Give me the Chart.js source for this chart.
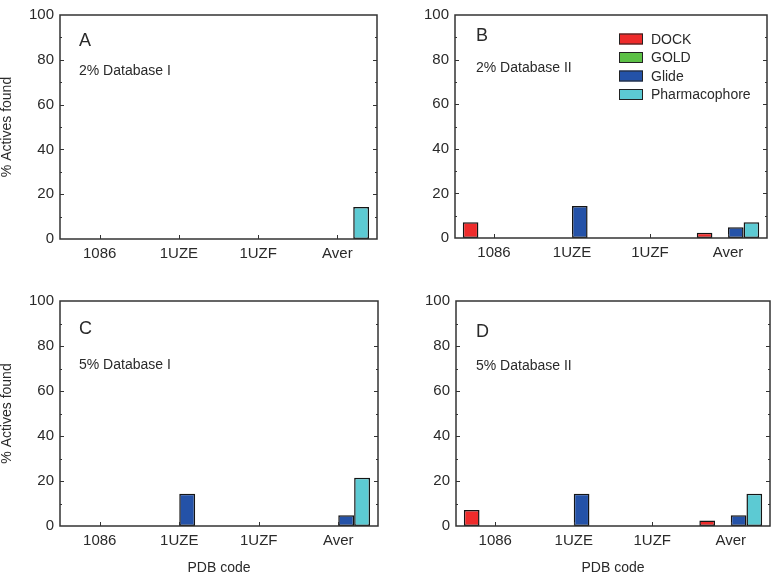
<!DOCTYPE html>
<html>
<head>
<meta charset="utf-8">
<script src="https://cdn.jsdelivr.net/npm/chart.js@4/dist/chart.umd.min.js"></script>
<style>
  body { margin: 0; background: #fff; }
  #wrap { position: relative; width: 777px; height: 572px; overflow: hidden; }
  canvas { position: absolute; }
</style>
</head>
<body>
<div id="wrap">
  <canvas id="panelA" width="390" height="286" style="left:0px;top:0px;width:390px;height:286px"></canvas>
  <canvas id="panelB" width="387" height="286" style="left:390px;top:0px;width:387px;height:286px"></canvas>
  <canvas id="panelC" width="390" height="286" style="left:0px;top:286px;width:390px;height:286px"></canvas>
  <canvas id="panelD" width="387" height="286" style="left:390px;top:286px;width:387px;height:286px"></canvas>
</div>
<script>
// categories and series
var pdbCodes = ["1086", "1UZE", "1UZF", "Aver"];
var methods = ["DOCK", "GOLD", "Glide", "Pharmacophore"];
var yTicks = [0, 20, 40, 60, 80, 100];

// % actives found, one array per method and panel
var dockA = [0, 0, 0, 0];
var goldA = [0, 0, 0, 0];
var glideA = [0, 0, 0, 0];
var pharmA = [0, 0, 0, 14.3];

var dockB = [7.1, 0, 0, 2.4];
var goldB = [0, 0, 0, 0];
var glideB = [0, 14.3, 0, 4.8];
var pharmB = [0, 0, 0, 7.1];

var dockC = [0, 0, 0, 0];
var goldC = [0, 0, 0, 0];
var glideC = [0, 14.3, 0, 4.8];
var pharmC = [0, 0, 0, 21.4];

var dockD = [7.1, 0, 0, 2.4];
var goldD = [0, 0, 0, 0];
var glideD = [0, 14.3, 0, 4.8];
var pharmD = [0, 0, 0, 14.3];

var colores = ["#ee2b2b", "#5cc046", "#2452a8", "#5ccad3"];
var fonte = "'Liberation Sans', Arial, sans-serif";
var corTexto = "#2a2a2a";

// frame, inward ticks, panel texts and the legend
var decoPlugin = {
	id: "decoPainel",
	afterDraw: function (chart, args, opts) {
		var ctx = chart.ctx;
		var a = chart.chartArea;
		var y = chart.scales.y;
		var x = chart.scales.x;
		ctx.save();
		ctx.strokeStyle = "#333";
		ctx.lineWidth = 1.5;
		ctx.strokeRect(a.left, a.top, a.right - a.left, a.bottom - a.top);

		ctx.lineWidth = 1;
		for (var v = 10; v < 100; v += 10) {
			var py = Math.round(y.getPixelForValue(v)) + 0.5;
			var len = (v % 20 == 0) ? 4 : 2;
			ctx.beginPath();
			ctx.moveTo(a.left, py); ctx.lineTo(a.left + len, py);
			ctx.moveTo(a.right, py); ctx.lineTo(a.right - len, py);
			ctx.stroke();
		}
		for (var i = 0; i < pdbCodes.length; i++) {
			var px = Math.round(x.getPixelForValue(i)) + 0.5;
			ctx.beginPath();
			ctx.moveTo(px, a.bottom); ctx.lineTo(px, a.bottom - 4);
			ctx.stroke();
		}

		ctx.fillStyle = corTexto;
		ctx.textBaseline = "alphabetic";
		ctx.textAlign = "left";
		ctx.font = "18px " + fonte;
		ctx.fillText(opts.letra, a.left + opts.dx, a.top + opts.letraY);
		ctx.font = "14px " + fonte;
		ctx.fillText(opts.subtitulo, a.left + opts.dx, a.top + opts.subY);

		if (opts.legenda) {
			var ds = chart.data.datasets;
			for (var k = 0; k < ds.length; k++) {
				var cy = a.top + 24 + k * 18.5;
				ctx.fillStyle = ds[k].backgroundColor;
				ctx.fillRect(a.left + 164, cy - 5.5, 24, 11);
				ctx.strokeStyle = "#222";
				ctx.strokeRect(a.left + 164.5, cy - 5, 23, 10);
				ctx.fillStyle = corTexto;
				ctx.textBaseline = "middle";
				ctx.fillText(ds[k].label, a.left + 196, cy + 1);
			}
		}
		ctx.restore();
	}
};

function plotarPainel(id, series, cfg) {
	var datasets = [];
	for (var i = 0; i < methods.length; i++) {
		datasets.push({
			label: methods[i],
			data: series[i],
			backgroundColor: colores[i],
			borderColor: "#151515",
			borderWidth: 1.5,
			borderSkipped: false,
			categoryPercentage: 0.8,
			barPercentage: 1.0
		});
	}
	new Chart(document.getElementById(id), {
		type: "bar",
		data: { labels: pdbCodes, datasets: datasets },
		plugins: [decoPlugin],
		options: {
			responsive: false,
			animation: false,
			layout: { padding: { top: cfg.top, right: cfg.right, left: 0, bottom: 0 } },
			scales: {
				x: {
					grid: { display: false, drawTicks: false },
					border: { display: false },
					ticks: { color: corTexto, font: { family: fonte, size: 15 }, padding: 6, maxRotation: 0 },
					title: {
						display: cfg.tituloX,
						text: "PDB code",
						color: corTexto,
						font: { family: fonte, size: 14, lineHeight: 0.6 },
						padding: 0
					},
					afterFit: function (s) { s.height = cfg.altX; }
				},
				y: {
					min: 0,
					max: 100,
					afterBuildTicks: function (s) {
						s.ticks = yTicks.map(function (v) { return { value: v }; });
					},
					grid: { display: false, drawTicks: false },
					border: { display: false },
					ticks: { color: corTexto, font: { family: fonte, size: 15 }, padding: 6 },
					title: {
						display: cfg.tituloY,
						text: "% Actives found",
						color: corTexto,
						font: { family: fonte, size: 14, lineHeight: 1 },
						padding: 0
					},
					afterFit: function (s) { s.width = cfg.largY; }
				}
			},
			plugins: {
				legend: { display: false },
				tooltip: { enabled: false },
				decoPainel: cfg.deco
			}
		}
	});
}

plotarPainel("panelA", [dockA, goldA, glideA, pharmA], {
	top: 5, right: 13, altX: 47, largY: 60, tituloX: false, tituloY: true,
	deco: { letra: "A", subtitulo: "2% Database I", dx: 19, letraY: 31, subY: 60, legenda: false }
});
plotarPainel("panelB", [dockB, goldB, glideB, pharmB], {
	top: 9, right: 10, altX: 48, largY: 65, tituloX: false, tituloY: false,
	deco: { letra: "B", subtitulo: "2% Database II", dx: 21, letraY: 26, subY: 57, legenda: true }
});
plotarPainel("panelC", [dockC, goldC, glideC, pharmC], {
	top: 11, right: 12, altX: 46, largY: 60, tituloX: true, tituloY: true,
	deco: { letra: "C", subtitulo: "5% Database I", dx: 19, letraY: 33, subY: 68, legenda: false }
});
plotarPainel("panelD", [dockD, goldD, glideD, pharmD], {
	top: 10, right: 7, altX: 46, largY: 66, tituloX: true, tituloY: false,
	deco: { letra: "D", subtitulo: "5% Database II", dx: 20, letraY: 36, subY: 69, legenda: false }
});
</script>
</body>
</html>
